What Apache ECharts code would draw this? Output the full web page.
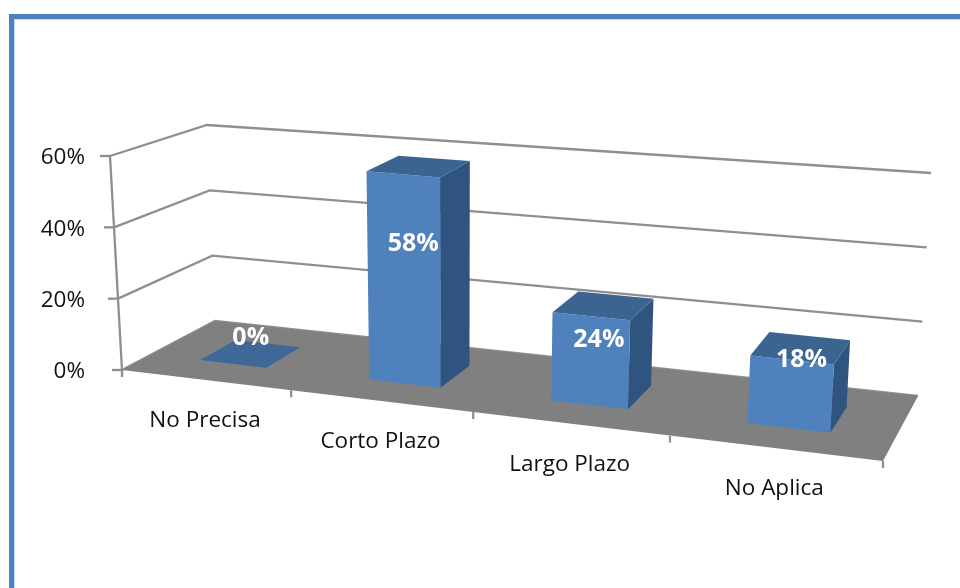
<!DOCTYPE html>
<html><head><meta charset="utf-8">
<style>html,body{margin:0;padding:0;background:#fff}#c{width:960px;height:588px}</style>
<script src="https://cdn.jsdelivr.net/npm/echarts@6/dist/echarts.min.js"></script>
</head><body><div id="c"></div>
<script>
var categories = ['No Precisa', 'Corto Plazo', 'Largo Plazo', 'No Aplica'];
var percentages = [0, 58, 24, 18];
var axisTicks = [0, 20, 40, 60];

// perspective frame of the chart box: floor plane, and the rise to the 60% level at each floor corner
var floorQuad = [[122,370],[883,461],[918,396],[215,321]];
var riseQuad = [[-12,-214],[14,-232],[13,-223],[-8,-196]];
var BAR_W = 0.4, D0 = 0.3, D1 = 0.7;
var labelNudge = [[0,-16],[-6,-1],[-4,1],[2,-14]];

function homography(q){
  var x0=q[0][0],y0=q[0][1],x1=q[1][0],y1=q[1][1],x2=q[2][0],y2=q[2][1],x3=q[3][0],y3=q[3][1];
  var dx1=x1-x2,dx2=x3-x2,sx=x0-x1+x2-x3,dy1=y1-y2,dy2=y3-y2,sy=y0-y1+y2-y3;
  var den=dx1*dy2-dx2*dy1;
  var g=(sx*dy2-dx2*sy)/den,h=(dx1*sy-sx*dy1)/den;
  var a=x1-x0+g*x1,b=x3-x0+h*x3,c=x0,d=y1-y0+g*y1,e=y3-y0+h*y3,f=y0;
  return function(u,v){var w=g*u+h*v+1;return [(a*u+b*v+c)/w,(d*u+e*v+f)/w];};
}
var floorH = homography(floorQuad);
function project(u,d,v){
  var p=floorH(u,d),r=riseQuad;
  function mix(k){
    return (r[0][k]*(1-u)+r[1][k]*u)*(1-d)+(r[3][k]*(1-u)+r[2][k]*u)*d;
  }
  return [p[0]+mix(0)*v,p[1]+mix(1)*v];
}
function frac(params,api,cat,val){
  var cs=params.coordSys,c=api.coord([cat,val]);
  return {u:(c[0]-cs.x)/cs.width,v:(cs.y+cs.height-c[1])/cs.height,band:api.size([1,0])[0]/cs.width};
}
var GRID='#8f8f8f';
function line(a,b,w){return {type:'line',shape:{x1:a[0],y1:a[1],x2:b[0],y2:b[1]},style:{stroke:GRID,lineWidth:w||2.3}};}
function poly(pts,fill){return {type:'polygon',shape:{points:pts},style:{fill:fill}};}

function renderWall(params,api){
  var f=frac(params,api,0,api.value(0));
  var a=project(0,0,f.v),b=project(0,1,f.v),c=project(1,1,f.v);
  return {type:'group',children:[
    {type:'polyline',shape:{points:[a,b,c]},style:{stroke:GRID,lineWidth:2.3,fill:null}},
    line([a[0]-10,a[1]],a)
  ]};
}
function renderFloor(params,api){
  var kids=[line(project(0,0,0),project(0,0,1))];
  kids.push(poly([project(0,0,0),project(1,0,0),project(1,1,0),project(0,1,0)],'#808080'));
  categories.forEach(function(_,i){
    var u0=frac(params,api,i,0).u-frac(params,api,i,0).band/2;
    var p=project(u0,0,0);
    kids.push(line(p,[p[0],p[1]+7]));
    if(i===categories.length-1){var q=project(1,0,0);kids.push(line(q,[q[0],q[1]+7]));}
  });
  return {type:'group',children:kids};
}
function renderBar(params,api){
  var i=api.value(0),val=api.value(1),f=frac(params,api,i,val);
  var hw=f.band*BAR_W/2,u0=f.u-hw,u1=f.u+hw,v=f.v;
  var kids=[];
  if(val>0){
    kids.push(poly([project(u1,D0,0),project(u1,D1,0),project(u1,D1,v),project(u1,D0,v)],'#305480'));
    kids.push(poly([project(u0,D0,0),project(u1,D0,0),project(u1,D0,v),project(u0,D0,v)],'#4f81bd'));
  }
  kids.push(poly([project(u0,D0,v),project(u1,D0,v),project(u1,D1,v),project(u0,D1,v)],val>0?'#3b6491':'#3f6797'));
  return {type:'group',children:kids};
}
function renderLabels(params,api){
  var i=api.value(0),val=api.value(1),f=frac(params,api,i,val);
  var anchor=project(f.u,0.5,f.v*0.62);
  var base=project(f.u,0,0);
  return {type:'group',children:[
    {type:'text',style:{text:val+'%',x:anchor[0]+labelNudge[i][0],y:anchor[1]+labelNudge[i][1],align:'center',verticalAlign:'middle',
      fill:'#fff',font:'bold 25px "Open Sans"'}},
    {type:'text',style:{text:categories[i],x:base[0],y:base[1]+41,align:'center',verticalAlign:'middle',
      fill:'#111',font:'22.5px "Open Sans"'}}
  ]};
}
var barData=percentages.map(function(v,i){return [i,v];});
var chart=echarts.init(document.getElementById('c'),null,{renderer:'canvas'});
chart.setOption({
  animation:false,
  backgroundColor:'#fff',
  grid:{left:92,right:92,top:158,bottom:216,containLabel:false},
  xAxis:{type:'category',data:categories,show:false},
  yAxis:{type:'value',min:0,max:60,interval:20,
    axisLine:{show:false},axisTick:{show:false},splitLine:{show:false},
    axisLabel:{formatter:'{value}%',margin:7,color:'#111',fontSize:22.5,fontFamily:'Open Sans'}},
  graphic:[
    {type:'rect',shape:{x:9,y:14,width:951,height:5},style:{fill:'#4f81bd'},silent:true},
    {type:'rect',shape:{x:9,y:14,width:5,height:574},style:{fill:'#4f81bd'},silent:true},
    {type:'rect',shape:{x:14,y:19,width:946,height:1},style:{fill:'#c6d9f1'},silent:true},
    {type:'rect',shape:{x:14,y:19,width:1,height:569},style:{fill:'#c6d9f1'},silent:true}
  ],
  series:[
    {type:'custom',z:2,clip:false,silent:true,renderItem:renderWall,data:axisTicks.map(function(t){return [t];}),encode:{x:[],y:0}},
    {type:'custom',z:3,clip:false,silent:true,renderItem:renderFloor,data:[[0,0]],encode:{x:0,y:1}},
    {type:'custom',z:4,clip:false,silent:true,renderItem:renderBar,data:barData,encode:{x:0,y:1}},
    {type:'custom',z:5,clip:false,silent:true,renderItem:renderLabels,data:barData,encode:{x:0,y:1}}
  ]
});
</script></body></html>
